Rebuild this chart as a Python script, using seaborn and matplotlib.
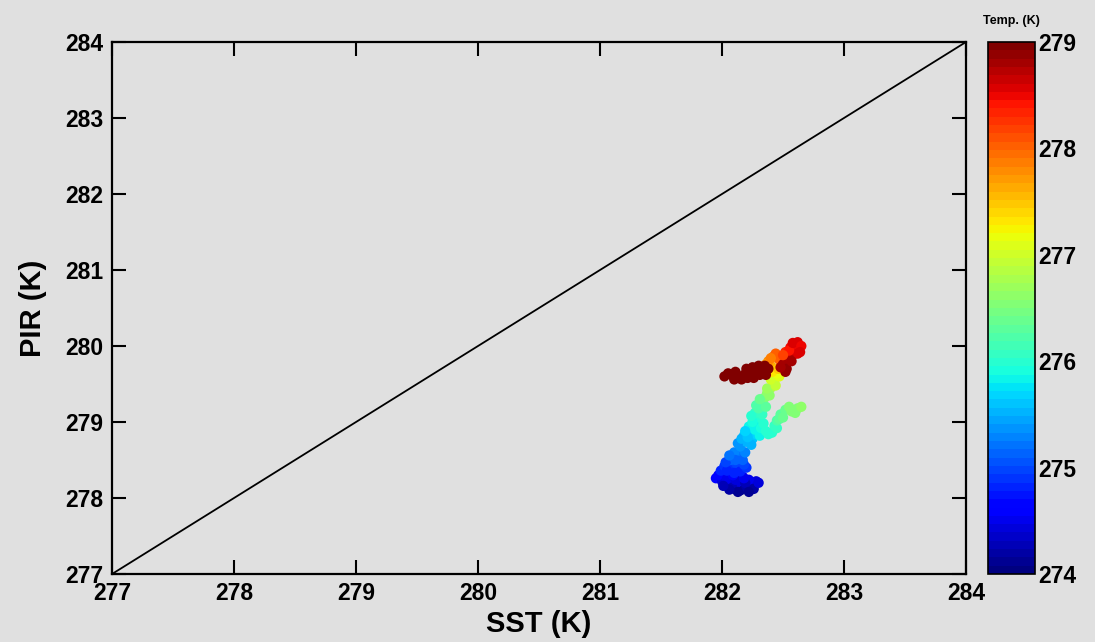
import numpy as np
import pandas as pd
import seaborn as sns
import matplotlib.pyplot as plt
from matplotlib.colors import Normalize
from matplotlib.cm import ScalarMappable

# SST / PIR pairs, coloured by temperature
sst = [281.95, 282.00, 282.05, 282.10, 282.15, 282.20, 282.25, 282.28, 282.22, 282.12, 282.08, 282.17, 282.03,
       281.97, 282.04, 282.11, 282.19, 282.26, 282.22, 282.13, 282.06, 282.30, 282.01, 282.18, 282.09,
       281.99, 282.02, 282.08, 282.12, 282.07, 282.15, 282.20, 282.14, 282.10,
       282.04, 282.10, 282.18, 282.03, 282.11, 282.17, 282.06, 282.19,
       282.15, 282.20, 282.18, 282.23, 282.25, 282.28, 282.22,
       282.13, 282.24, 282.16, 282.21, 282.27, 282.31, 282.19,
       282.28, 282.32, 282.36, 282.41, 282.45, 282.30, 282.27,
       282.25, 282.34, 282.38, 282.43, 282.33, 282.24,
       282.45, 282.48, 282.52, 282.57, 282.62, 282.47,
       282.50, 282.55, 282.60, 282.65,
       282.30, 282.33, 282.35, 282.37, 282.40, 282.42, 282.44,
       282.28, 282.36, 282.31, 282.39, 282.37, 282.44, 282.40, 282.47,
       282.45, 282.43, 282.40, 282.38, 282.42, 282.47,
       282.41, 282.46, 282.36, 282.44, 282.40, 282.34,
       282.52, 282.56, 282.60, 282.63, 282.58, 282.62, 282.55, 282.50, 282.53,
       282.55, 282.58, 282.62, 282.65, 282.64, 282.50, 282.57, 282.52, 282.48,
       282.38, 282.33, 282.28, 282.23, 282.18, 282.13, 282.08, 282.05, 282.16, 282.26, 282.30,
       282.35, 282.31, 282.25, 282.20, 282.21, 282.11, 282.10, 282.02, 282.36]
pir = [278.26, 278.22, 278.18, 278.12, 278.10, 278.14, 278.18, 278.22, 278.24, 278.20, 278.15, 278.28, 278.30,
       278.30, 278.25, 278.24, 278.20, 278.12, 278.08, 278.08, 278.11, 278.20, 278.16, 278.26, 278.30,
       278.36, 278.42, 278.38, 278.45, 278.50, 278.35, 278.40, 278.55, 278.60,
       278.36, 278.33, 278.44, 278.47, 278.50, 278.50, 278.56, 278.60,
       278.68, 278.74, 278.82, 278.88, 278.78, 278.84, 278.94,
       278.72, 278.70, 278.78, 278.80, 278.90, 278.82, 278.88,
       278.98, 278.92, 278.88, 278.86, 278.92, 279.06, 279.12,
       279.00, 278.98, 278.84, 278.95, 279.10, 279.08,
       279.02, 279.10, 279.16, 279.14, 279.18, 279.04,
       279.06, 279.20, 279.12, 279.20,
       279.18, 279.25, 279.32, 279.38, 279.45, 279.52, 279.58,
       279.22, 279.20, 279.30, 279.35, 279.44, 279.48, 279.56, 279.60,
       279.64, 279.70, 279.74, 279.80, 279.86, 279.82,
       279.66, 279.70, 279.76, 279.90, 279.84, 279.72,
       279.92, 279.98, 280.02, 279.96, 279.88, 279.90, 279.84, 279.76, 279.70,
       279.94, 280.04, 280.05, 280.00, 279.92, 279.88, 279.80, 279.66, 279.72,
       279.70, 279.66, 279.68, 279.63, 279.62, 279.60, 279.62, 279.64, 279.56, 279.58, 279.74,
       279.74, 279.62, 279.72, 279.70, 279.58, 279.66, 279.56, 279.60, 279.62]
temp = [274.6, 274.4, 274.3, 274.2, 274.1, 274.2, 274.3, 274.4, 274.5, 274.4, 274.3, 274.6, 274.7,
        274.7, 274.5, 274.4, 274.3, 274.2, 274.1, 274.1, 274.2, 274.4, 274.3, 274.5, 274.6,
        274.8, 274.9, 274.9, 275.0, 275.1, 274.8, 274.9, 275.2, 275.3,
        274.8, 274.8, 275.0, 275.0, 275.1, 275.1, 275.2, 275.3,
        275.4, 275.5, 275.6, 275.7, 275.6, 275.7, 275.8,
        275.4, 275.5, 275.5, 275.6, 275.8, 275.8, 275.7,
        275.8, 275.9, 276.0, 276.0, 276.1, 276.0, 276.1,
        275.9, 276.0, 276.0, 276.1, 276.1, 276.0,
        276.2, 276.3, 276.4, 276.5, 276.5, 276.3,
        276.4, 276.5, 276.5, 276.6,
        276.2, 276.3, 276.5, 276.6, 276.8, 276.9, 277.1,
        276.2, 276.3, 276.4, 276.6, 276.7, 276.9, 277.0, 277.1,
        277.2, 277.4, 277.6, 277.8, 277.9, 278.0,
        277.3, 277.5, 277.7, 278.0, 277.9, 277.6,
        278.3, 278.5, 278.6, 278.5, 278.4, 278.6, 278.7, 278.8, 278.9,
        278.4, 278.6, 278.6, 278.5, 278.6, 278.2, 278.8, 278.9, 278.8,
        279.0, 279.0, 279.0, 279.0, 279.0, 279.0, 279.0, 279.0, 279.0, 279.0, 279.0,
        279.0, 279.0, 279.0, 279.0, 279.0, 279.0, 279.0, 279.0, 279.0]

ticks = [277, 278, 279, 280, 281, 282, 283, 284]
cbar_ticks = [274, 275, 276, 277, 278, 279]

df = pd.DataFrame({'SST': sst, 'PIR': pir, 'Temp': temp})

sns.set_theme(style='white')
plt.rcParams['font.family'] = ['Liberation Sans', 'DejaVu Sans']
plt.rcParams['font.weight'] = 'bold'
plt.rcParams['text.color'] = 'black'
plt.rcParams['axes.labelcolor'] = 'black'

bg = '#e0e0e0'
fig = plt.figure(figsize=(10.95, 6.42), dpi=100, facecolor=bg)
ax = fig.add_axes([0.1023, 0.1059, 0.7799, 0.8287], facecolor=bg)
cax = fig.add_axes([0.9023, 0.1059, 0.0429, 0.8287])

cmap = plt.get_cmap('jet', 64)
norm = Normalize(vmin=274, vmax=279)

# 1:1 line
ax.plot([277, 284], [277, 284], color='black', lw=1.3)

sns.scatterplot(data=df, x='SST', y='PIR', hue='Temp', palette=cmap, hue_norm=norm,
                s=55, linewidth=0, legend=False, ax=ax)

ax.set_xlim(277, 284)
ax.set_ylim(277, 284)
ax.set_xticks(ticks)
ax.set_yticks(ticks)
ax.tick_params(direction='in', length=10, width=1.5, top=True, right=True,
               bottom=True, left=True, labelsize=16.5, pad=6, colors='black')
for lab in ax.get_xticklabels() + ax.get_yticklabels():
    lab.set_fontweight('bold')
for sp in ax.spines.values():
    sp.set_linewidth(1.6)
    sp.set_color('black')
ax.set_xlabel('SST (K)', fontsize=21, fontweight='bold', labelpad=3, color='black')
ax.set_ylabel('PIR (K)', fontsize=21, fontweight='bold', labelpad=13, color='black')

cb = fig.colorbar(ScalarMappable(norm=norm, cmap=cmap), cax=cax, ticks=cbar_ticks)
cb.outline.set_linewidth(1.2)
cb.outline.set_edgecolor('black')
cax.tick_params(length=0, labelsize=16.5, pad=2, colors='black')
for lab in cax.get_yticklabels():
    lab.set_fontweight('bold')
cax.set_title('Temp. (K)', fontsize=9, fontweight='bold', pad=13, color='black')

fig.savefig('out.png', dpi=100, facecolor=bg)
